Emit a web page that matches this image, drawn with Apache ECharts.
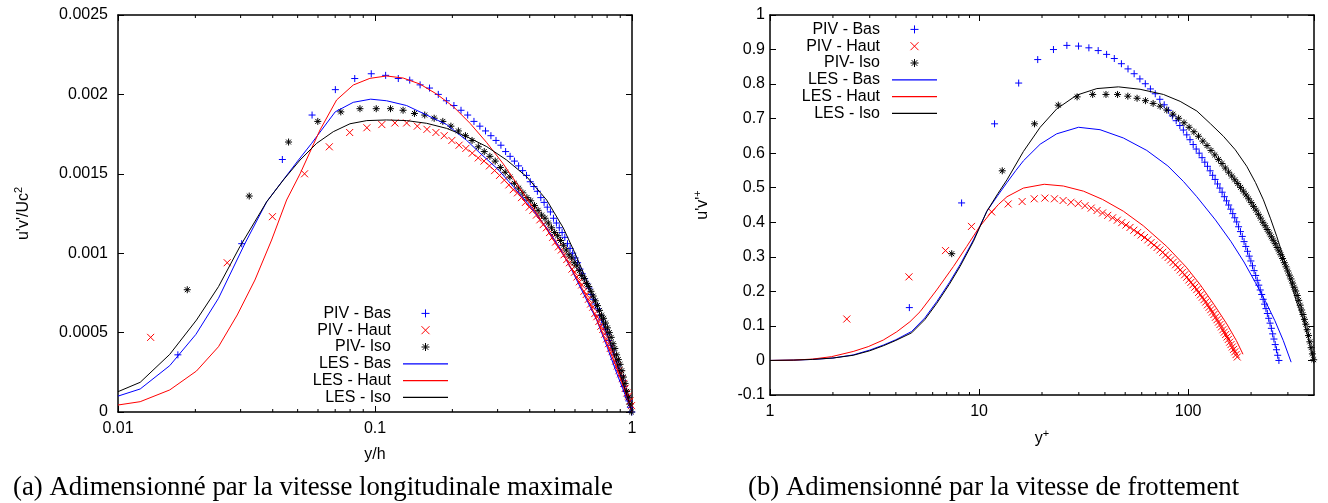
<!DOCTYPE html>
<html><head><meta charset="utf-8">
<script src="https://cdn.jsdelivr.net/npm/echarts@6.0.0/dist/echarts.min.js"></script>
<style>html,body{margin:0;padding:0;background:#fff}#c{width:1328px;height:503px}</style>
</head><body><div id="c"></div>
<script>
// ---------- (a) data : u'v'/Uc^2 versus y/h ----------
const pivBasA_x = [0.0171,0.0303,0.0436,0.0569,0.0701,0.0834,0.0967,0.1100,0.1232,0.1365,0.1498,0.1630,0.1763,0.1896,0.2028,0.2161,0.2294,0.2427,0.2559,0.2692,0.2825,0.2957,0.3090,0.3223,0.3355,0.3488,0.3621,0.3753,0.3886,0.4019,0.4151,0.4284,0.4417,0.4550,0.4682,0.4815,0.4948,0.5080,0.5213,0.5346,0.5478,0.5611,0.5744,0.5877,0.6009,0.6142,0.6275,0.6407,0.6540,0.6673,0.6805,0.6938,0.7071,0.7203,0.7336,0.7469,0.7602,0.7734,0.7867,0.8000,0.8132,0.8265,0.8398,0.8530,0.8663,0.8796,0.8928,0.9061,0.9194,0.9326,0.9459,0.9592,0.9725,0.9857,0.9990];
const pivBasA_y = [0.00036,0.00106,0.00159,0.00187,0.00203,0.00210,0.00213,0.00212,0.00210,0.00209,0.00206,0.00204,0.00200,0.00196,0.00193,0.00190,0.00187,0.00183,0.00180,0.00177,0.00174,0.00171,0.00168,0.00164,0.00161,0.00158,0.00155,0.00152,0.00149,0.00145,0.00142,0.00139,0.00135,0.00132,0.00129,0.00126,0.00122,0.00119,0.00116,0.00113,0.00110,0.00106,0.00103,0.00100,0.00097,0.00094,0.00090,0.00087,0.00084,0.00081,0.00078,0.00074,0.00071,0.00068,0.00065,0.00061,0.00058,0.00055,0.00052,0.00049,0.00045,0.00042,0.00039,0.00036,0.00032,0.00029,0.00026,0.00023,0.00020,0.00016,0.00013,0.00010,0.00007,0.00003,0.00000];
const pivHautA_x = [0.0134,0.0266,0.0399,0.0532,0.0664,0.0797,0.0930,0.1063,0.1195,0.1328,0.1461,0.1593,0.1726,0.1859,0.1991,0.2124,0.2257,0.2390,0.2522,0.2655,0.2788,0.2920,0.3053,0.3186,0.3318,0.3451,0.3584,0.3716,0.3849,0.3982,0.4114,0.4247,0.4380,0.4513,0.4645,0.4778,0.4911,0.5043,0.5176,0.5309,0.5441,0.5574,0.5707,0.5840,0.5972,0.6105,0.6238,0.6370,0.6503,0.6636,0.6768,0.6901,0.7034,0.7166,0.7299,0.7432,0.7565,0.7697,0.7830,0.7963,0.8095,0.8228,0.8361,0.8493,0.8626,0.8759,0.8891,0.9024,0.9157,0.9289,0.9422,0.9555,0.9688,0.9820,0.9953];
const pivHautA_y = [0.00047,0.00094,0.00123,0.00150,0.00167,0.00176,0.00179,0.00181,0.00182,0.00182,0.00180,0.00178,0.00176,0.00174,0.00171,0.00168,0.00166,0.00163,0.00160,0.00158,0.00155,0.00152,0.00149,0.00146,0.00143,0.00140,0.00138,0.00135,0.00132,0.00129,0.00127,0.00124,0.00121,0.00118,0.00116,0.00113,0.00110,0.00107,0.00104,0.00102,0.00099,0.00096,0.00094,0.00090,0.00088,0.00085,0.00082,0.00080,0.00076,0.00074,0.00071,0.00068,0.00066,0.00062,0.00060,0.00057,0.00054,0.00052,0.00049,0.00046,0.00043,0.00040,0.00038,0.00035,0.00032,0.00029,0.00026,0.00024,0.00021,0.00018,0.00015,0.00012,0.00010,0.00007,0.00004];
const pivIsoA_x = [0.0186,0.0324,0.0461,0.0599,0.0736,0.0874,0.1011,0.1149,0.1286,0.1424,0.1561,0.1699,0.1836,0.1974,0.2111,0.2249,0.2386,0.2524,0.2661,0.2799,0.2936,0.3074,0.3211,0.3349,0.3486,0.3624,0.3761,0.3899,0.4036,0.4174,0.4311,0.4449,0.4586,0.4724,0.4861,0.4999,0.5136,0.5274,0.5411,0.5549,0.5686,0.5824,0.5961,0.6099,0.6236,0.6374,0.6511,0.6649,0.6786,0.6924,0.7061,0.7199,0.7336,0.7474,0.7611,0.7749,0.7886,0.8024,0.8161,0.8299,0.8436,0.8574,0.8711,0.8849,0.8986,0.9124,0.9261,0.9399,0.9536,0.9674,0.9811,0.9949];
const pivIsoA_y = [0.00077,0.00136,0.00170,0.00183,0.00189,0.00191,0.00191,0.00191,0.00190,0.00188,0.00187,0.00185,0.00183,0.00180,0.00177,0.00174,0.00171,0.00167,0.00164,0.00161,0.00158,0.00154,0.00151,0.00148,0.00144,0.00141,0.00138,0.00135,0.00133,0.00130,0.00127,0.00124,0.00122,0.00119,0.00116,0.00113,0.00111,0.00108,0.00105,0.00102,0.00099,0.00097,0.00094,0.00092,0.00089,0.00086,0.00084,0.00081,0.00079,0.00076,0.00073,0.00070,0.00067,0.00064,0.00061,0.00059,0.00056,0.00053,0.00050,0.00047,0.00043,0.00040,0.00036,0.00033,0.00030,0.00026,0.00022,0.00018,0.00013,0.00009,0.00005,0.00000];
const lesBasA_x = [0.0100,0.0122,0.0159,0.0201,0.0246,0.0312,0.0379,0.0434,0.0500,0.0567,0.0700,0.0823,0.0962,0.1109,0.1327,0.1588,0.1900,0.2275,0.2563,0.3000,0.3450,0.4000,0.4600,0.5200,0.5740,0.6500,0.7290,0.8000,0.8720,0.9400,1.0];
const lesBasA_y = [0.000100,0.000145,0.000292,0.000489,0.000716,0.001062,0.001324,0.00145,0.00158,0.001692,0.00189,0.00195,0.00197,0.00196,0.00193,0.00187,0.00181,0.00171,0.00163,0.00153,0.00142,0.00130,0.00117,0.00104,0.000915,0.00074,0.000579,0.00041,0.000244,0.00011,0];
const lesHautA_x = [0.0100,0.0122,0.0159,0.0202,0.0246,0.0291,0.0341,0.0396,0.0453,0.0511,0.0611,0.0709,0.0823,0.0955,0.1109,0.1287,0.1496,0.1738,0.2018,0.2343,0.2722,0.3157,0.3666,0.4256,0.4943,0.5600,0.6300,0.7000,0.7800,0.8600,0.9300,1.0];
const lesHautA_y = [0.000044,0.000065,0.000139,0.000258,0.000411,0.000611,0.000831,0.001083,0.001335,0.0015,0.001776,0.001965,0.002059,0.002101,0.002116,0.002103,0.002065,0.002002,0.001923,0.001818,0.001696,0.001562,0.001409,0.001251,0.001083,0.00095,0.0008,0.00065,0.00047,0.0003,0.00015,0];
const lesIsoA_x = [0.0100,0.0122,0.0159,0.0202,0.0246,0.0298,0.0379,0.0440,0.0511,0.0593,0.0688,0.0799,0.0929,0.1109,0.1327,0.1588,0.1900,0.2275,0.2722,0.3251,0.3890,0.4656,0.5400,0.6000,0.6700,0.7400,0.8100,0.8800,0.9400,1.0];
const lesIsoA_y = [0.000128,0.000187,0.000363,0.000579,0.000789,0.001041,0.001324,0.001461,0.001587,0.001692,0.001765,0.001815,0.001835,0.001839,0.001835,0.001818,0.001786,0.001734,0.001671,0.001587,0.001482,0.001335,0.00116,0.00100,0.00082,0.00064,0.00047,0.00029,0.00014,0];

// ---------- (b) data : u'v'+ versus y+ ----------
const pivBasB_x = [4.64,8.25,11.86,15.47,19.08,22.69,26.30,29.91,33.52,37.13,40.74,44.35,47.96,51.57,55.18,58.79,62.40,66.01,69.62,73.23,76.84,80.45,84.06,87.67,91.28,94.89,98.50,102.11,105.72,109.33,112.94,116.55,120.16,123.77,127.38,130.99,134.60,138.21,141.82,145.43,149.04,152.65,156.26,159.87,163.48,167.09,170.70,174.31,177.92,181.53,185.14,188.75,192.36,195.97,199.58,203.19,206.80,210.41,214.02,217.63,221.24,224.85,228.46,232.07,235.68,239.29,242.90,246.51,250.12,253.73,257.34,260.95,264.56,268.17,271.78];
const pivBasB_y = [0.153,0.456,0.685,0.803,0.871,0.900,0.912,0.910,0.905,0.897,0.886,0.874,0.859,0.844,0.830,0.815,0.801,0.786,0.772,0.756,0.740,0.724,0.708,0.694,0.680,0.667,0.653,0.639,0.625,0.612,0.600,0.587,0.574,0.562,0.549,0.536,0.524,0.511,0.499,0.487,0.474,0.462,0.450,0.438,0.425,0.413,0.401,0.387,0.373,0.359,0.344,0.330,0.316,0.302,0.288,0.274,0.260,0.246,0.232,0.218,0.204,0.191,0.177,0.163,0.150,0.136,0.122,0.108,0.093,0.077,0.062,0.046,0.031,0.015,0.000];
const pivHautB_x = [2.33,4.62,6.91,9.20,11.49,13.78,16.07,18.36,20.65,22.94,25.23,27.52,29.81,32.10,34.39,36.68,38.97,41.26,43.55,45.84,48.13,50.42,52.71,55.00,57.29,59.58,61.87,64.16,66.45,68.74,71.03,73.32,75.61,77.90,80.19,82.48,84.77,87.06,89.35,91.64,93.93,96.22,98.51,100.80,103.09,105.38,107.67,109.96,112.25,114.54,116.83,119.12,121.41,123.70,125.99,128.28,130.57,132.86,135.15,137.44,139.73,142.02,144.31,146.60,148.89,151.18,153.47,155.76,158.05,160.34,162.63,164.92,167.21,169.50,171.79];
const pivHautB_y = [0.120,0.242,0.318,0.388,0.430,0.453,0.460,0.468,0.470,0.468,0.463,0.458,0.454,0.448,0.441,0.434,0.427,0.420,0.413,0.406,0.399,0.392,0.385,0.377,0.370,0.363,0.356,0.349,0.341,0.334,0.327,0.320,0.313,0.305,0.298,0.291,0.284,0.277,0.269,0.262,0.255,0.248,0.241,0.233,0.226,0.219,0.212,0.205,0.197,0.190,0.183,0.176,0.169,0.161,0.154,0.147,0.140,0.133,0.125,0.118,0.111,0.104,0.097,0.089,0.082,0.075,0.068,0.061,0.053,0.046,0.039,0.032,0.025,0.017,0.010];
const pivIsoB_x = [7.40,12.91,18.42,23.93,29.44,34.95,40.46,45.97,51.48,56.99,62.50,68.01,73.52,79.03,84.54,90.05,95.56,101.07,106.58,112.09,117.60,123.11,128.62,134.13,139.64,145.15,150.66,156.17,161.68,167.19,172.70,178.21,183.72,189.23,194.74,200.25,205.76,211.27,216.78,222.29,227.80,233.31,238.82,244.33,249.84,255.35,260.86,266.37,271.88,277.39,282.90,288.41,293.92,299.43,304.94,310.45,315.96,321.47,326.98,332.49,338.00,343.51,349.02,354.53,360.04,365.55,371.06,376.57,382.08,387.59,393.10,398.61];
const pivIsoB_y = [0.309,0.549,0.685,0.739,0.763,0.770,0.770,0.770,0.765,0.759,0.752,0.744,0.736,0.725,0.713,0.701,0.688,0.675,0.662,0.649,0.635,0.622,0.608,0.595,0.582,0.570,0.557,0.545,0.534,0.523,0.512,0.501,0.490,0.479,0.468,0.457,0.446,0.435,0.423,0.412,0.400,0.390,0.379,0.369,0.358,0.348,0.338,0.327,0.317,0.306,0.295,0.283,0.271,0.259,0.247,0.236,0.224,0.212,0.201,0.188,0.174,0.160,0.146,0.133,0.119,0.105,0.089,0.072,0.054,0.037,0.019,0.002];
const lesBasB_x = [1.0,1.3,1.6,2.0,2.5,3.0,3.5,4.0,4.76,5.5,6.27,7.2,8.11,9.4,10.9,12.3,13.6,15.0,16.3,19.6,23.5,29.9,37.9,49.0,63.4,80.0,95.0,110.0,135.0,160.0,185.0,210.0,235.0,260.0,285.0,311.0];
const lesBasB_y = [0.000,0.001,0.003,0.007,0.016,0.030,0.045,0.060,0.084,0.123,0.170,0.225,0.277,0.349,0.432,0.478,0.515,0.550,0.578,0.626,0.656,0.675,0.668,0.644,0.608,0.563,0.518,0.474,0.407,0.345,0.285,0.225,0.170,0.115,0.058,-0.005];
const lesHautB_x = [1.0,1.3,1.6,1.97,2.5,2.95,3.48,4.04,4.67,5.22,6.27,7.54,8.73,10.0,11.3,12.4,13.6,16.3,20.5,25.3,31.6,39.0,49.0,61.0,79.0,98.0,114.0,133.0,153.0,170.0,183.0];
const lesHautB_y = [0.000,0.001,0.004,0.011,0.026,0.040,0.059,0.083,0.112,0.141,0.204,0.272,0.330,0.385,0.425,0.452,0.474,0.499,0.510,0.505,0.490,0.466,0.432,0.390,0.330,0.270,0.220,0.162,0.106,0.058,0.018];
const lesIsoB_x = [1.0,1.3,1.6,2.0,2.5,3.0,3.5,4.0,4.76,5.5,6.27,7.2,8.11,9.4,10.9,12.3,13.6,16.3,19.6,23.5,29.3,36.6,46.4,58.9,76.2,91.6,110.1,128.0,147.5,168.0,190.7,210.0,229.1,248.0,265.4,287.0,307.5,330.0,356.0,378.0,397.0];
const lesIsoB_y = [0.000,0.001,0.003,0.007,0.015,0.028,0.043,0.058,0.080,0.118,0.165,0.220,0.272,0.345,0.432,0.483,0.523,0.605,0.675,0.728,0.768,0.787,0.792,0.785,0.770,0.750,0.722,0.685,0.649,0.610,0.562,0.515,0.465,0.410,0.359,0.295,0.233,0.170,0.117,0.058,0.000];

// minor (log) tick positions and legend names
const minorTicksA = [0.02,0.03,0.04,0.05,0.06,0.07,0.08,0.09,0.2,0.3,0.4,0.5,0.6,0.7,0.8,0.9];
const minorTicksB = [2,3,4,5,6,7,8,9,20,30,40,50,60,70,80,90,200,300];
const legendNames = ['PIV - Bas','PIV - Haut','PIV- Iso','LES - Bas','LES - Haut','LES - Iso'];
const captionA = '(a) Adimensionné par la vitesse longitudinale maximale';
const captionB = '(b) Adimensionné par la vitesse de frottement';

// ---------- build ----------
const BLUE = '#0000ff', RED = '#ff0000', BLACK = '#000000';
const PLUS = 'path://M0,5L10,5M5,0L5,10';
const CROSS = 'path://M0,0L10,10M0,10L10,0';
const STAR = 'path://M0,5L10,5M5,0L5,10M1.5,1.5L8.5,8.5M1.5,8.5L8.5,1.5';
const LINEICON = 'path://M0,0L45,0L45,1.3L0,1.3Z';
const FONT = 'Liberation Sans';
const zip = (xs, ys) => xs.map((x, i) => [x, ys[i]]).filter(p => p[1] !== undefined);

function piv(name, xs, ys, sym, color, ax) {
  return {type:'scatter', name, xAxisIndex:ax, yAxisIndex:ax, data:zip(xs, ys), symbol:sym, symbolSize:7,
    itemStyle:{color:color, borderColor:color, borderWidth:1, opacity:1}, silent:true, z:2, animation:false};
}
function les(name, xs, ys, color, ax) {
  return {type:'line', name, xAxisIndex:ax, yAxisIndex:ax, data:zip(xs, ys), showSymbol:false, symbol:'none',
    lineStyle:{color:color, width:1}, itemStyle:{color:color}, silent:true, z:3, animation:false};
}
function minor(ticks, ax) {
  return {type:'custom', xAxisIndex:ax, yAxisIndex:ax, silent:true, z:5, animation:false,
    data: ticks.map(t => [t, 0]),
    renderItem(params, api) {
      const x = api.coord([api.value(0), api.value(1)])[0];
      const cs = params.coordSys;
      const b = cs.y + cs.height, t = cs.y;
      return {type:'group', children:[
        {type:'line', shape:{x1:x, y1:b, x2:x, y2:b-3}, style:{stroke:'#000', lineWidth:1}},
        {type:'line', shape:{x1:x, y1:t, x2:x, y2:t+3}, style:{stroke:'#000', lineWidth:1}}
      ]};
    }};
}
const lineStyleAxis = {color:'#000', width:1.5};
const lbl = {fontFamily:FONT, fontSize:16, color:'#000'};
const rich = {a:{...lbl, lineHeight:22}, s:{fontFamily:FONT, fontSize:11, lineHeight:11, verticalAlign:'top', color:'#000'}};
function xAx(grid, min, max, pos, main, name, gap, showMax) {
  return {gridIndex:grid, type:'log', logBase:10, min, max, position:pos,
    axisLine:{show:true, onZero:false, lineStyle:lineStyleAxis},
    axisTick:{show:true, inside:true, length:6, lineStyle:{color:'#000', width:1}},
    axisLabel:{show:main, margin:9, showMaxLabel:showMax, showMinLabel:true, ...lbl},
    splitLine:{show:false}, minorTick:{show:false},
    name: main ? name : '', nameLocation:'middle', nameGap:gap,
    nameTextStyle:{...lbl, rich}};
}
function yAx(grid, min, max, interval, pos, main, name, gap, margin) {
  return {gridIndex:grid, type:'value', min, max, interval, position:pos,
    axisLine:{show:true, onZero:false, lineStyle:lineStyleAxis},
    axisTick:{show:true, inside:true, length:6, lineStyle:{color:'#000', width:1}},
    axisLabel:{show:main, margin:margin, ...lbl},
    splitLine:{show:false},
    name: main ? name : '', nameLocation:'middle', nameGap:gap, nameRotate:90,
    nameTextStyle:{...lbl, rich}};
}
function legendAt(right, top) {
  const data = legendNames.map(n => n.startsWith('LES') ? {name:n, icon:LINEICON} : {name:n});
  return {data, orient:'vertical', align:'right', right, top, padding:0, itemGap:0,
    itemWidth:45, itemHeight:8, selectedMode:false, itemStyle:{borderWidth:1},
    textStyle:{fontFamily:FONT, fontSize:16, color:'#000', lineHeight:16.8, padding:[0,7,0,0]}};
}

const option = {
  animation:false,
  backgroundColor:'#fff',
  title:[
    {text:captionA, left:13, top:474, padding:0, textStyle:{fontFamily:'Liberation Serif', fontSize:26.8, fontWeight:'normal', color:'#000'}},
    {text:captionB, left:748, top:474, padding:0, textStyle:{fontFamily:'Liberation Serif', fontSize:26.8, fontWeight:'normal', color:'#000'}}
  ],
  grid:[
    {left:118, top:15, width:514, height:397, containLabel:false},
    {left:770, top:15, width:544, height:380, containLabel:false}
  ],
  xAxis:[
    xAx(0, 0.01, 1, 'bottom', true, 'y/h', 35, true),
    xAx(0, 0.01, 1, 'top', false, '', 0, true),
    xAx(1, 1, 400, 'bottom', true, '{a|y}{s|+}', 33, false),
    xAx(1, 1, 400, 'top', false, '', 0, false)
  ],
  yAxis:[
    yAx(0, 0, 0.0025, 0.0005, 'left', true, "{a|u'v'/Uc}{s|2}", 83, 10),
    yAx(0, 0, 0.0025, 0.0005, 'right', false, '', 0, 8),
    yAx(1, -0.1, 1, 0.1, 'left', true, "{a|u'v'}{s|+}", 56, 5),
    yAx(1, -0.1, 1, 0.1, 'right', false, '', 0, 8)
  ],
  legend:[legendAt(880, 305), legendAt(391, 21)],
  series:[
    piv('PIV - Bas', pivBasA_x, pivBasA_y, PLUS, BLUE, 0),
    piv('PIV - Haut', pivHautA_x, pivHautA_y, CROSS, RED, 0),
    piv('PIV- Iso', pivIsoA_x, pivIsoA_y, STAR, BLACK, 0),
    les('LES - Bas', lesBasA_x, lesBasA_y, BLUE, 0),
    les('LES - Haut', lesHautA_x, lesHautA_y, RED, 0),
    les('LES - Iso', lesIsoA_x, lesIsoA_y, BLACK, 0),
    minor(minorTicksA, 0),
    piv('PIV - Bas', pivBasB_x, pivBasB_y, PLUS, BLUE, 2),
    piv('PIV - Haut', pivHautB_x, pivHautB_y, CROSS, RED, 2),
    piv('PIV- Iso', pivIsoB_x, pivIsoB_y, STAR, BLACK, 2),
    les('LES - Bas', lesBasB_x, lesBasB_y, BLUE, 2),
    les('LES - Haut', lesHautB_x, lesHautB_y, RED, 2),
    les('LES - Iso', lesIsoB_x, lesIsoB_y, BLACK, 2),
    minor(minorTicksB, 2)
  ]
};
const chart = echarts.init(document.getElementById('c'), null, {renderer:'canvas'});
chart.setOption(option);
</script></body></html>
